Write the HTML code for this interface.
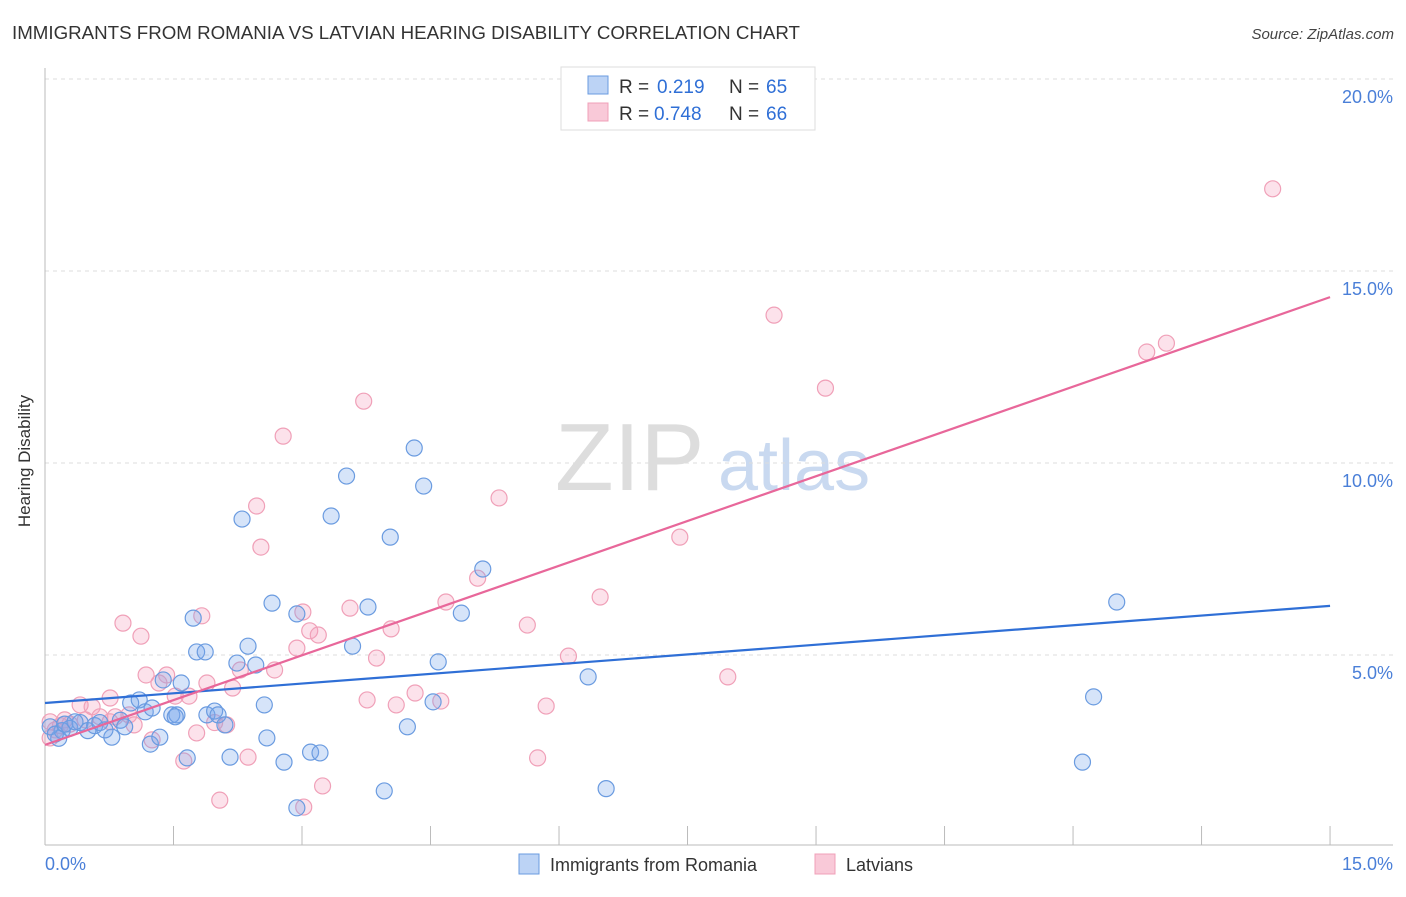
<!DOCTYPE html>
<html><head><meta charset="utf-8"><style>
body{margin:0;background:#fff;font-family:"Liberation Sans",sans-serif;}
svg text{font-family:"Liberation Sans",sans-serif;}
</style></head><body>
<svg id="chart" width="1406" height="892">
<text x="12" y="39" font-size="18" fill="#333" textLength="788" lengthAdjust="spacingAndGlyphs">IMMIGRANTS FROM ROMANIA VS LATVIAN HEARING DISABILITY CORRELATION CHART</text>
<text x="1394" y="39" font-size="15" fill="#444" font-style="italic" text-anchor="end">Source: ZipAtlas.com</text>
<text x="25" y="456" font-size="17" fill="#333" transform="rotate(-90 30 456)" text-anchor="middle">Hearing Disability</text>
<text x="555" y="490" font-size="96" fill="#ddd" font-family="Liberation Serif">ZIP</text>
<text x="718" y="490" font-size="72" fill="#c9d9f0">atlas</text>
<g id="grid"></g><g id="ticks"></g><g id="pts"></g><g id="lines"></g>
<g>
<rect x="561" y="67" width="254" height="63" fill="#fff" stroke="#ddd"/>
<rect x="588" y="76" width="20" height="18" fill="#bcd3f5" stroke="#6a9be0"/>
<rect x="588" y="103" width="20" height="18" fill="#f9c9d8" stroke="#f0a0b8"/>
<text x="619" y="93" font-size="19" fill="#333">R =</text>
<text x="657" y="93" font-size="19" fill="#2f6fd6">0.219</text>
<text x="729" y="93" font-size="19" fill="#333">N =</text>
<text x="766" y="93" font-size="19" fill="#2f6fd6">65</text>
<text x="619" y="120" font-size="19" fill="#333">R =</text>
<text x="654" y="120" font-size="19" fill="#2f6fd6">0.748</text>
<text x="729" y="120" font-size="19" fill="#333">N =</text>
<text x="766" y="120" font-size="19" fill="#2f6fd6">66</text>
</g>
<g>
<rect x="519" y="854" width="20" height="20" fill="#bcd3f5" stroke="#6a9be0"/>
<text x="550" y="871" font-size="18" fill="#333">Immigrants from Romania</text>
<rect x="815" y="854" width="20" height="20" fill="#f9c9d8" stroke="#f0a0b8"/>
<text x="846" y="871" font-size="18" fill="#333">Latvians</text>
</g>
</svg>
<script>
const yTicks=[5,10,15,20];
const xTickLabels=["0.0%","15.0%"];
const blueX=[0.16,0.2,0.29,0.41,0.5,0.58,0.64,0.78,0.88,1.0,1.1,1.17,1.25,1.23,1.34,1.38,1.48,1.54,1.59,1.66,1.73,1.77,1.87,1.89,1.98,2.02,2.1,2.16,2.24,2.3,2.37,2.46,2.56,2.59,2.65,2.79,2.94,2.94,3.1,3.21,3.34,3.52,3.59,3.77,3.96,4.03,4.23,4.31,4.42,4.53,4.59,4.86,5.11,6.34,6.55,12.11,12.24,12.51,0.06,0.12,0.23,0.35,0.7,0.93,1.52];
const blueY=[2.83,3.03,3.09,3.24,3.03,3.16,3.24,2.86,3.3,3.75,3.83,3.52,3.62,2.68,2.86,4.35,3.44,3.44,4.27,2.32,5.96,5.08,5.08,3.44,3.54,3.44,3.18,2.34,4.79,8.54,5.23,4.74,3.7,2.84,6.35,2.21,6.07,1.02,2.47,2.45,8.62,9.66,5.23,6.25,1.46,8.07,3.13,10.39,9.4,3.78,4.82,6.09,7.24,4.43,1.52,2.21,3.91,6.38,3.13,2.94,3.2,3.26,3.05,3.13,3.39];
const pinkX=[14.33,8.51,13.09,12.86,9.11,3.72,2.78,5.3,2.47,7.41,2.52,5.05,6.48,1.83,3.01,4.68,3.56,0.91,4.04,3.09,5.63,3.19,1.12,2.94,6.11,3.87,1.18,1.42,2.68,2.28,1.89,2.19,1.33,1.52,7.97,0.76,4.32,3.76,1.68,4.62,4.1,5.85,0.55,0.41,0.98,0.82,0.76,0.64,1.04,2.12,1.98,1.25,1.77,2.37,5.75,1.62,3.24,2.04,3.02,0.06,0.12,0.18,0.29,0.06,0.23,0.47];
const pinkY=[17.14,13.85,13.12,12.89,11.95,11.61,10.7,9.09,8.88,8.07,7.81,7.0,6.51,6.02,6.12,6.38,6.22,5.83,5.68,5.63,5.78,5.52,5.49,5.18,4.97,4.92,4.48,4.48,4.61,4.61,4.27,4.14,4.27,3.93,4.43,3.88,4.01,3.83,3.93,3.8,3.7,3.67,3.65,3.7,3.44,3.39,3.26,3.39,3.18,3.18,3.24,2.79,2.97,2.34,2.32,2.24,1.59,1.22,1.04,3.26,3.05,3.16,3.2,2.84,3.31,3.31];
const blueFit=[3.75,6.28];
const pinkFit=[2.66,14.32];
const xs=v=>45+v*85.67, ys=v=>847-v*38.4;
const NS="http://www.w3.org/2000/svg";
function mk(tag,parent,attrs){const e=document.createElementNS(NS,tag);for(const k in attrs)e.setAttribute(k,attrs[k]);document.getElementById(parent).appendChild(e);return e;}
yTicks.forEach(t=>{
 const g=mk('line','grid',{x1:45,x2:1393,y1:ys(t),y2:ys(t),stroke:'#ddd','stroke-dasharray':'4 4'});
 
 
 const l=mk('text','ticks',{x:1393,y:ys(t)+24,'font-size':18,fill:'#4a7fd8','text-anchor':'end'});
 l.textContent=t.toFixed(1)+'%';
 
 
});
let el=mk('line','ticks',{x1:45,x2:1393,y1:845,y2:845,stroke:'#bbb'});


el=mk('line','ticks',{x1:45,x2:45,y1:68,y2:845,stroke:'#bbb'});


for(let i=1;i<=10;i++){
 const t=mk('line','ticks',{x1:xs(i*1.5),x2:xs(i*1.5),y1:826,y2:845,stroke:'#bbb'});
 
 
}
[[0,'start',45],[15,'end',1393]].forEach((d,i)=>{
 const l=mk('text','ticks',{x:d[2],y:870,'font-size':18,fill:'#4a7fd8','text-anchor':d[1]});
 l.textContent=xTickLabels[i];
 
 
});
pinkX.forEach((x,i)=>{
 const c=mk('circle','pts',{cx:xs(x),cy:ys(pinkY[i]),r:8,fill:'rgba(244,160,188,0.3)',stroke:'#f0a0b8','stroke-width':1.2});
 
 
});
blueX.forEach((x,i)=>{
 const c=mk('circle','pts',{cx:xs(x),cy:ys(blueY[i]),r:8,fill:'rgba(120,165,235,0.3)',stroke:'#6a9be0','stroke-width':1.2});
 
 
});
el=mk('line','lines',{x1:xs(0),x2:xs(15),y1:ys(blueFit[0]),y2:ys(blueFit[1]),stroke:'#2f6fd6','stroke-width':2.2});


el=mk('line','lines',{x1:xs(0),x2:xs(15),y1:ys(pinkFit[0]),y2:ys(pinkFit[1]),stroke:'#e8679a','stroke-width':2.2});


</script>
</body></html>
